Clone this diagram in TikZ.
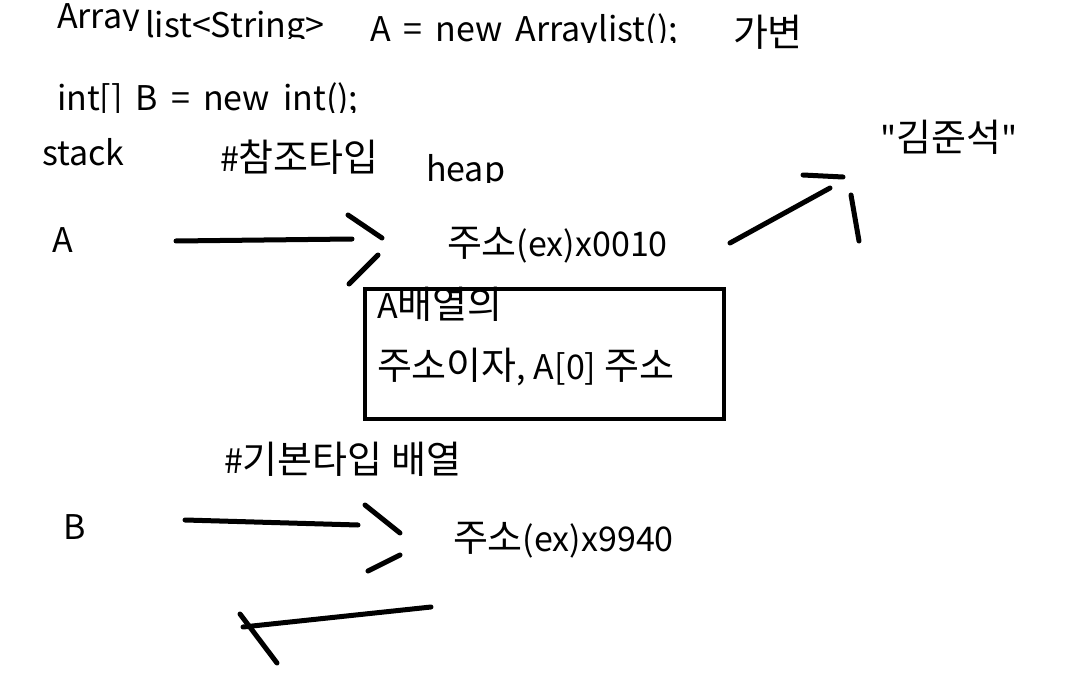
\documentclass[tikz,border=0pt]{standalone}
\usepackage{fontspec}
\setmainfont{Noto Sans CJK KR}
\newcommand\ko[1]{{\fontsize{38}{40}\selectfont #1}}
\newcommand\widesp{\spaceskip=13pt\relax}
\begin{document}
\begin{tikzpicture}[x=1pt,y=-1pt,
  txt/.style={anchor=base west,inner sep=0pt,outer sep=0pt,font=\fontsize{34}{40}\selectfont},
  code/.style={txt,font=\fontsize{34}{40}\selectfont\widesp},
  pen/.style={line width=5pt,line cap=round},
  boxline/.style={draw,line width=4pt}]
\useasboundingbox[fill=white] (0,0) rectangle (1088,698);
% top lines (clipped at bottom as in the picture)
\begin{scope}\clip (0,0) rectangle (145,31);
\node[txt] (t1) at (57,29) {Array};\end{scope}
\begin{scope}\clip (140,0) rectangle (345,39);
\node[txt] (t2) at (145,38) {list<String>};\end{scope}
\begin{scope}\clip (360,0) rectangle (700,43);
\node[code] (t3) at (370,42) {A = new Arraylist();};\end{scope}
\node[txt] (t4) at (733,47) {\ko{가변}};
\begin{scope}\clip (40,60) rectangle (380,113);
\node[code] (t5) at (57,111) {int[] B = new int();};\end{scope}
\node[txt] (stack) at (42,166) {stack};
\node[txt] (ref) at (220,172) {\#\ko{참조타입}};
\begin{scope}\clip (410,140) rectangle (520,183);
\node[txt] (heap) at (426,182) {heap};\end{scope}
\node[txt] (kim) at (880,152) {\textquotedbl\ko{김준석}\textquotedbl};
% A row
\node[txt] (A) at (52,252) {A};
\node[txt] (addrA) at (447,256) {\ko{주소}(ex)x0010};
\coordinate (a1) at (176,241);
\coordinate (a2) at (352,239);
\draw[pen] (a1) -- (a2);
\coordinate (h1) at (348,215); \coordinate (h2) at (382,238);
\coordinate (h3) at (378,255); \coordinate (h4) at (349,284);
\draw[pen] (h1) -- (h2);
\draw[pen] (h3) -- (h4);
% arrow to string
\coordinate (s1) at (730,243); \coordinate (s2) at (830,188);
\draw[pen] (s1) -- (s2);
\coordinate (k1) at (803,175); \coordinate (k2) at (843,177);
\coordinate (k3) at (851,195); \coordinate (k4) at (859,241);
\draw[pen] (k1) -- (k2);
\draw[pen] (k3) -- (k4);
% box
\node[boxline,minimum width=359pt,minimum height=130pt,inner sep=0pt,anchor=north west] (box) at (363,287) {};
\node[txt] (b1) at (377,318) {A\ko{배열의}};
\node[txt] (b2) at (377,379) {\ko{주소이자}, A[0] \ko{주소}};
% B row
\node[txt] (prim) at (224,473) {\#\ko{기본타입 배열}};
\node[txt] (B) at (63,539) {B};
\node[txt] (addrB) at (453,551) {\ko{주소}(ex)x9940};
\coordinate (c1) at (185,520); \coordinate (c2) at (358,525);
\draw[pen] (c1) -- (c2);
\coordinate (g1) at (365,505); \coordinate (g2) at (400,533);
\coordinate (g3) at (368,571); \coordinate (g4) at (400,555);
\draw[pen] (g1) -- (g2);
\draw[pen] (g3) -- (g4);
% bottom stroke
\coordinate (d1) at (243,627); \coordinate (d2) at (431,607);
\draw[pen] (d1) -- (d2);
\coordinate (e1) at (240,614); \coordinate (e2) at (277,663);
\draw[pen] (e1) -- (e2);
\end{tikzpicture}
\end{document}
